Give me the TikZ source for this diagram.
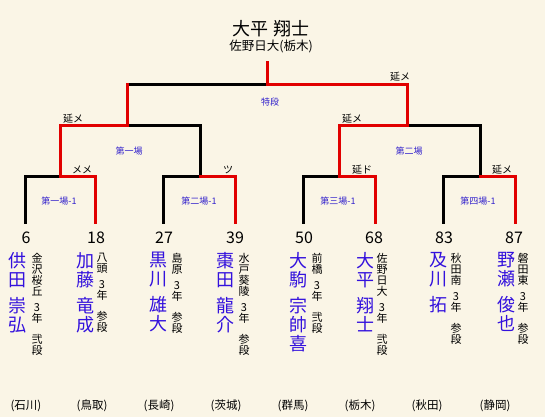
\documentclass[tikz,border=0pt]{standalone}
\usepackage{fontspec}
\setmainfont{Noto Sans CJK JP}
\definecolor{bgcol}{RGB}{250,245,230}
\definecolor{wred}{RGB}{225,0,0}
\definecolor{nameblue}{RGB}{51,17,221}
\definecolor{lblblue}{RGB}{51,34,204}
\tikzset{
  winline/.style={draw=wred, line width=3pt, line cap=rect, line join=miter},
  loseline/.style={draw=black, line width=3pt, line cap=rect, line join=miter},
  namest/.style={anchor=north, inner sep=0pt, align=center, text=nameblue, font=\fontsize{18}{19}\selectfont},
  infost/.style={anchor=north, inner sep=0pt, align=center, font=\fontsize{11}{11}\selectfont},
  numst/.style={inner sep=0pt, font=\fontsize{16}{16}\selectfont},
  prefst/.style={inner sep=0pt, font=\fontsize{11.5}{11.5}\selectfont},
  matchst/.style={inner sep=0pt, text=lblblue, font=\fontsize{9}{9}\selectfont},
  notest/.style={inner sep=0pt, font=\fontsize{10}{10}\selectfont},
}
\begin{document}
\begin{tikzpicture}[x=1pt,y=-1pt]
\fill[bgcol] (0,0) rectangle (545,417);
\useasboundingbox (0,0) rectangle (545,417);
% coordinates
\coordinate (p1) at (25,222);
\coordinate (p2) at (95,222);
\coordinate (p3) at (163,222);
\coordinate (p4) at (235,222);
\coordinate (p5) at (303,222);
\coordinate (p6) at (375,222);
\coordinate (p7) at (443,222);
\coordinate (p8) at (515,222);
\coordinate (m1) at (60,176);
\coordinate (m2) at (200,176);
\coordinate (m3) at (339,176);
\coordinate (m4) at (480,176);
\coordinate (s1) at (127,125);
\coordinate (s2) at (407,125);
\coordinate (f) at (267,85);
\coordinate (t) at (267,63);
% losing lines
\draw[loseline] (p1) |- (m1);
\draw[loseline] (p3) |- (m2) -- (m2 |- s1) -- (s1);
\draw[loseline] (s1 |- f) -- (f);
\draw[loseline] (p5) |- (m3);
\draw[loseline] (p7) |- (m4) -- (m4 |- s2) -- (s2);
% winning lines
\draw[winline] (p2) |- (m1) -- (m1 |- s1) -- (s1) -- (s1 |- f);
\draw[winline] (p4) |- (m2);
\draw[winline] (p8) |- (m4);
\draw[winline] (p6) |- (m3) -- (m3 |- s2) -- (s2) -- (s2 |- f) -- (f) -- (t);
% champion
\node[inner sep=0pt, font=\fontsize{18}{18}\selectfont] (champ) at (271,29) {大平 翔士};
\node[inner sep=0pt, font=\fontsize{12.5}{12.5}\selectfont] (champsch) at (271,46) {佐野日大(栃木)};
% match labels
\node[matchst] (mf) at (270,102) {特段};
\node[matchst] (ms1) at (129,151) {第一場};
\node[matchst] (ms2) at (409,151) {第二場};
\node[matchst] (mm1) at (59,201) {第一場-1};
\node[matchst] (mm2) at (199,201) {第二場-1};
\node[matchst] (mm3) at (338,201) {第三場-1};
\node[matchst] (mm4) at (478,201) {第四場-1};
% notes
\node[notest] (n0) at (400,77) {延メ};
\node[notest] (n1) at (73,119) {延メ};
\node[notest] (n2) at (352,119) {延メ};
\node[notest] (n3) at (82,170) {メメ};
\node[notest] (n4) at (228,170) {ツ};
\node[notest] (n5) at (362,170) {延ド};
\node[notest] (n6) at (502,170) {延メ};
% numbers
\node[numst] (k1) at (26,238) {6};
\node[numst] (k2) at (96,238) {18};
\node[numst] (k3) at (164,238) {27};
\node[numst] (k4) at (235,238) {39};
\node[numst] (k5) at (304,238) {50};
\node[numst] (k6) at (374,238) {68};
\node[numst] (k7) at (444,238) {83};
\node[numst] (k8) at (514,238) {87};
% names
\node[namest] (a1) at (18,252) {供\\田\\[7pt]崇\\弘};
\node[namest] (a2) at (85,252) {加\\藤\\[7pt]竜\\成};
\node[namest] (a3) at (158,252) {黒\\川\\[7pt]雄\\大};
\node[namest] (a4) at (225,252) {棗\\田\\[7pt]龍\\介};
\node[namest] (a5) at (298,252) {大\\駒\\[7pt]宗\\帥\\喜};
\node[namest] (a6) at (365,252) {大\\平\\[7pt]翔\\士};
\node[namest] (a7) at (438,252) {及\\川\\[7pt]拓};
\node[namest] (a8) at (506,252) {野\\瀬\\[7pt]俊\\也};
% info
\node[infost] (b1) at (37,253) {金\\沢\\桜\\丘\\[5pt]3\\年\\[10pt]弐\\段};
\node[infost] (b2) at (102,253) {八\\頭\\[5pt]3\\年\\[10pt]参\\段};
\node[infost] (b3) at (177,253) {島\\原\\[5pt]3\\年\\[10pt]参\\段};
\node[infost] (b4) at (244,253) {水\\戸\\葵\\陵\\[5pt]3\\年\\[10pt]参\\段};
\node[infost] (b5) at (317,253) {前\\橋\\[5pt]3\\年\\[10pt]弐\\段};
\node[infost] (b6) at (382,253) {佐\\野\\日\\大\\[5pt]3\\年\\[10pt]弐\\段};
\node[infost] (b7) at (456,253) {秋\\田\\南\\[5pt]3\\年\\[10pt]参\\段};
\node[infost] (b8) at (523,253) {磐\\田\\東\\[5pt]3\\年\\[10pt]参\\段};
% prefectures
\node[prefst] (c1) at (26,406) {(石川)};
\node[prefst] (c2) at (92,406) {(鳥取)};
\node[prefst] (c3) at (159,406) {(長崎)};
\node[prefst] (c4) at (226,406) {(茨城)};
\node[prefst] (c5) at (293,406) {(群馬)};
\node[prefst] (c6) at (360,406) {(栃木)};
\node[prefst] (c7) at (427,406) {(秋田)};
\node[prefst] (c8) at (495,406) {(静岡)};
\end{tikzpicture}
\end{document}
